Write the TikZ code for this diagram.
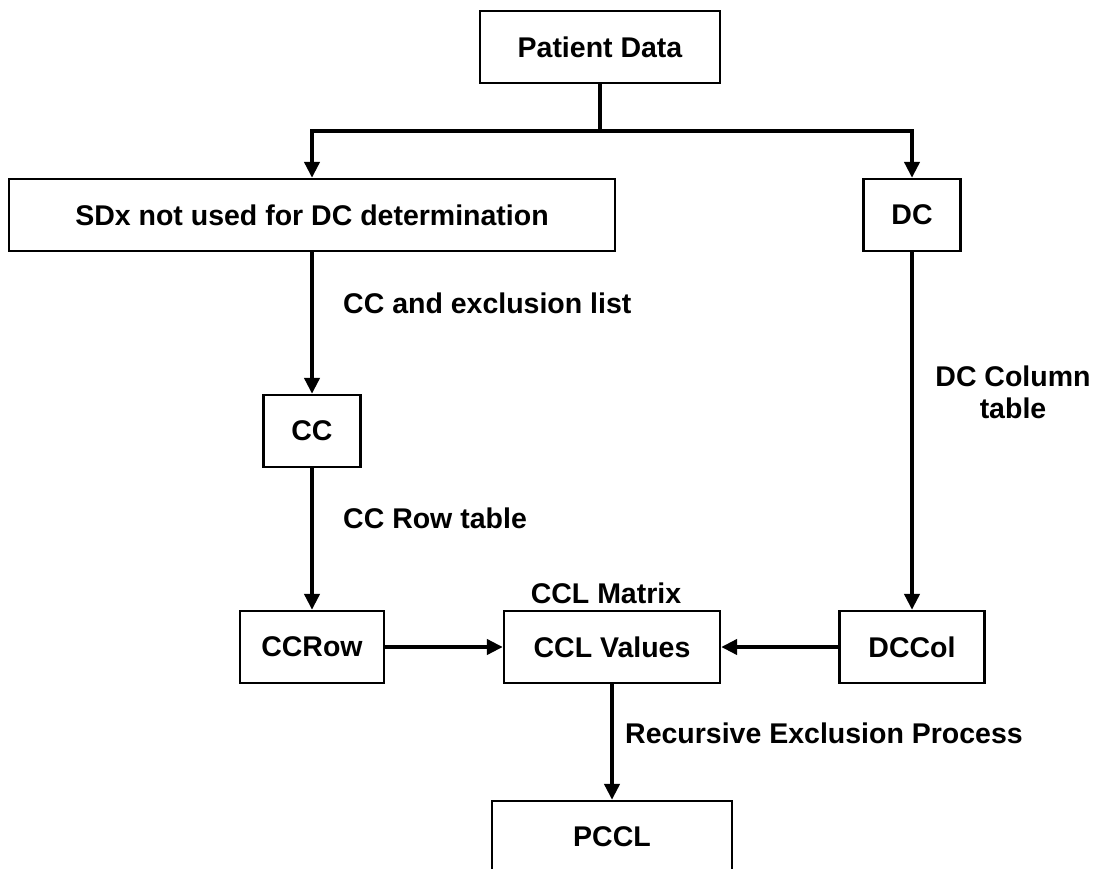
\documentclass[tikz,border=0pt]{standalone}
\usepackage{fontspec}
\setmainfont{Liberation Sans}
\usetikzlibrary{arrows.meta}
\begin{document}
\begin{tikzpicture}[x=1pt,y=-1pt,
  txt/.style={font=\fontsize{28.5}{33}\selectfont\bfseries},
  box/.style={txt, draw, line width=2.3pt, inner sep=0pt, fill=white},
  lbl/.style={txt, inner sep=0pt},
  conn/.style={line width=4.5pt},
  arr/.style={conn, -{Triangle[length=16pt,width=15pt]}}]
\clip (0,0) rectangle (1103,869);
\useasboundingbox (0,0) rectangle (1103,869);
\fill[white] (0,0) rectangle (1103,869);

\node[box, minimum width=240pt, minimum height=72pt] (pd) at (600,47) {Patient Data};
\node[box, minimum width=606pt, minimum height=72pt] (sdx) at (312,215) {SDx not used for DC determination};
\node[box, minimum width=97pt, minimum height=72pt] (dc) at (912,215) {DC};
\node[box, minimum width=97pt, minimum height=72pt] (cc) at (312,431) {CC};
\node[box, minimum width=144pt, minimum height=72pt] (ccrow) at (312,647) {CCRow};
\node[box, minimum width=216pt, minimum height=72pt] (ccl) at (612,647) {CCL Values};
\node[box, minimum width=145pt, minimum height=72pt] (dccol) at (912,647) {DCCol};
\node[box, minimum width=240pt, minimum height=72pt] (pccl) at (612,837) {PCCL};

\coordinate (j) at (600,131);
\draw[conn] (pd.south) -- (j);
\draw[arr] (j) -| (sdx.north);
\draw[arr] (j) -| (dc.north);
\draw[arr] (sdx.south) -- (cc.north);
\draw[arr] (cc.south) -- (ccrow.north);
\draw[arr] (dc.south) -- (dccol.north);
\draw[arr] (ccrow.east) -- (ccl.west);
\draw[arr] (dccol.west) -- (ccl.east);
\draw[arr] (ccl.south) -- (pccl.north);

\node[lbl, anchor=base west] (l1) at (343,313) {CC and exclusion list};
\node[lbl, anchor=base west] (l2) at (343,528) {CC Row table};
\node[lbl, anchor=base] (l3) at (606,603) {CCL Matrix};
\node[lbl, anchor=base] (l4a) at (1013,386) {DC Column};
\node[lbl, anchor=base] (l4b) at (1013,418) {table};
\node[lbl, anchor=base west] (l5) at (625,743) {Recursive Exclusion Process};
\end{tikzpicture}
\end{document}
